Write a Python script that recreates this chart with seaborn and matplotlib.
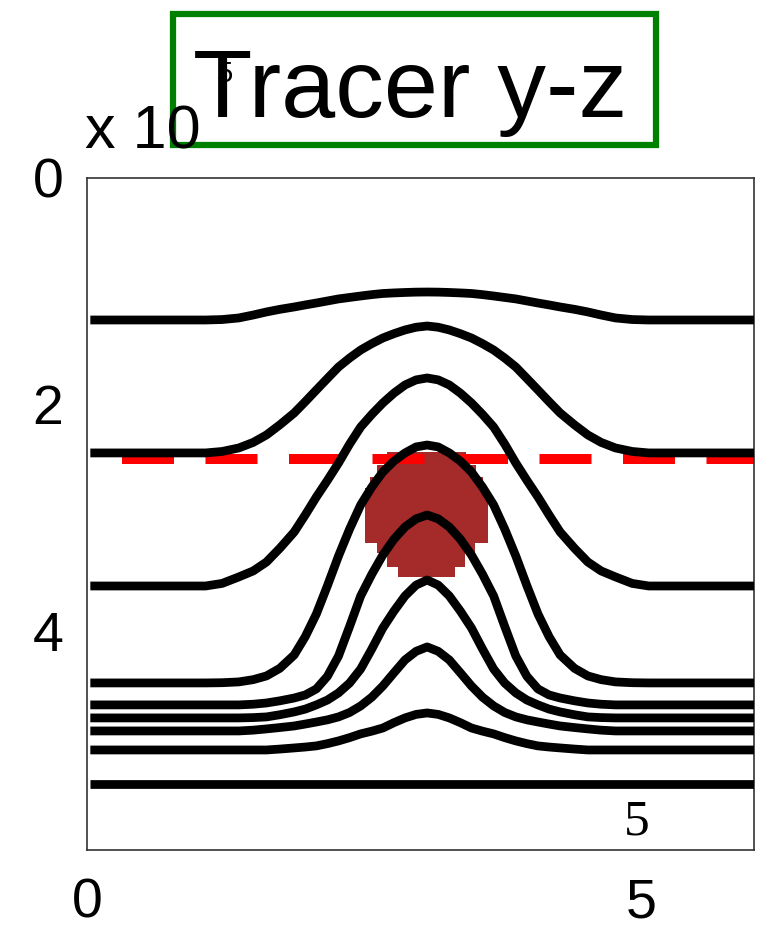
import matplotlib
matplotlib.use('Agg')
import matplotlib.pyplot as plt
import seaborn as sns
from matplotlib.patches import Rectangle

# horizontal distance (x 1e5) from the crest of the bump where each contour was read
offsets = [0.0, 0.1, 0.2, 0.3, 0.4, 0.5, 0.6, 0.7, 0.8, 0.9, 1.0,
           1.1, 1.2, 1.33, 1.45, 1.57, 1.7, 1.85, 2.0]
crest_x = 3.07
x_start, x_end = 0.03, 6.02

# contour depth (x 1e5) at those offsets, crest first, far field last
c1 = [1.007, 1.008, 1.011, 1.015, 1.020, 1.030, 1.042, 1.055, 1.068, 1.086, 1.104,
      1.121, 1.139, 1.160, 1.183, 1.210, 1.236, 1.250, 1.254]
c2 = [1.307, 1.318, 1.342, 1.375, 1.413, 1.463, 1.519, 1.590, 1.669, 1.770, 1.872,
      1.975, 2.075, 2.180, 2.269, 2.335, 2.384, 2.415, 2.428]
c3 = [1.766, 1.783, 1.828, 1.900, 1.987, 2.088, 2.199, 2.350, 2.517, 2.670, 2.817,
      2.975, 3.126, 3.270, 3.391, 3.470, 3.523, 3.580, 3.603]
c4 = [2.358, 2.375, 2.428, 2.500, 2.596, 2.730, 2.887, 3.100, 3.338, 3.600, 3.850,
      4.050, 4.212, 4.330, 4.397, 4.430, 4.450, 4.457, 4.459]
c5 = [2.976, 3.010, 3.082, 3.190, 3.329, 3.500, 3.691, 3.960, 4.221, 4.400, 4.512,
      4.565, 4.592, 4.617, 4.636, 4.647, 4.653, 4.653, 4.653]
c6 = [3.550, 3.595, 3.691, 3.825, 3.974, 4.160, 4.336, 4.460, 4.547, 4.610, 4.653,
      4.690, 4.715, 4.740, 4.759, 4.765, 4.768, 4.768, 4.768]
c7 = [4.141, 4.180, 4.256, 4.370, 4.486, 4.585, 4.662, 4.720, 4.759, 4.785, 4.804,
      4.822, 4.839, 4.853, 4.865, 4.876, 4.883, 4.883, 4.883]
c8 = [4.724, 4.737, 4.768, 4.810, 4.857, 4.885, 4.909, 4.942, 4.971, 4.995, 5.015,
      5.025, 5.033, 5.043, 5.051, 5.051, 5.051, 5.051, 5.051]
c9 = [5.351] * 19
contours = [c1, c2, c3, c4, c5, c6, c7, c8, c9]

# reference depth (red dashed)
ref_depth = 2.481
ref_x = [0.32, 6.02]

# tracer patch: rows (depth edges) with left / right extents
tracer_y = [2.419, 2.534, 2.640, 2.737, 3.223, 3.311, 3.435, 3.523]
tracer_left = [2.708, 2.617, 2.554, 2.509, 2.617, 2.708, 2.807, 2.807]
tracer_right = [3.421, 3.511, 3.574, 3.619, 3.502, 3.412, 3.321, 3.321]

xticks = [0, 5]
yticks = [0, 2, 4]

sns.set_style('white')
plt.rcParams['font.family'] = ['Liberation Sans', 'DejaVu Sans']
plt.rcParams['text.color'] = 'black'
plt.rcParams['xtick.color'] = 'black'
plt.rcParams['ytick.color'] = 'black'

fig = plt.figure(figsize=(7.72, 9.27), dpi=100)
ax = fig.add_axes([0.1127, 0.0831, 0.8640, 0.7249])

xs = [x_start] + [crest_x - o for o in offsets[::-1]] + [crest_x + o for o in offsets[1:]] + [x_end]

ax.fill_betweenx(tracer_y, tracer_left, tracer_right, step='post',
                 color='#a52a2a', linewidth=0, zorder=1)

sns.lineplot(x=ref_x, y=[ref_depth, ref_depth], color='red', linewidth=7.2,
             linestyle=(0, (5.2, 3.15)), estimator=None, sort=False, ax=ax, zorder=2)

for c in contours:
    ys = [c[-1]] + c[::-1] + c[1:] + [c[-1]]
    sns.lineplot(x=xs, y=ys, color='black', linewidth=6.3, estimator=None,
                 sort=False, ax=ax, zorder=3, solid_capstyle='butt')

ax.set_xlim(0, 6.02)
ax.set_ylim(5.934, 0)
ax.set_xticks(xticks)
ax.set_xticklabels([str(t) for t in xticks])
ax.set_yticks(yticks)
ax.set_yticklabels([str(t) for t in yticks])
ax.tick_params(axis='both', length=0, labelsize=40, labelcolor='black')
ax.tick_params(axis='y', pad=17)
ax.tick_params(axis='x', pad=20)
ax.set_xlabel('')
ax.set_ylabel('')
for s in ax.spines.values():
    s.set_linewidth(1.2)
    s.set_color('#333333')
    s.set_visible(True)

ax.text(4.96, 5.69, '5', fontsize=37, family='Liberation Serif',
        ha='center', va='center')

# axis multiplier, partly hidden behind the title
fig.text(0.110, 0.8403, 'x 10', fontsize=44)
fig.text(0.281, 0.9115, '5', fontsize=21)

# title in green box
fig.patches.append(Rectangle((0.2241, 0.8436), 0.6256, 0.1413, transform=fig.transFigure,
                             fill=False, edgecolor='green', linewidth=4.5))
fig.text(0.531, 0.8738, 'Tracer y-z', fontsize=70, ha='center', va='baseline')

fig.savefig('out.png', dpi=100)
